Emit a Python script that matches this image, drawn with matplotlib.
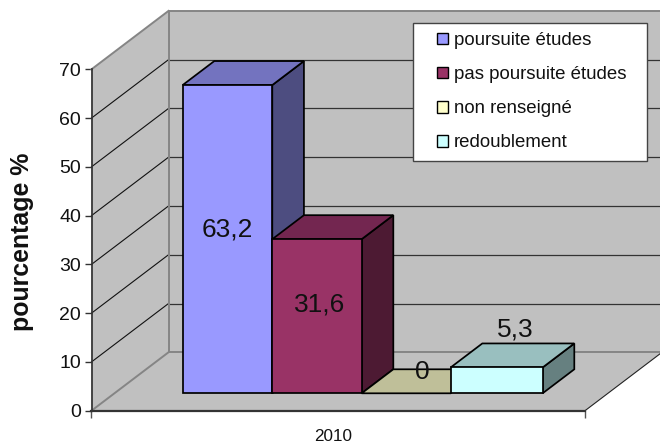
import matplotlib
matplotlib.use("Agg")
import matplotlib.pyplot as plt
from matplotlib.patches import Polygon, Rectangle

plt.rcParams['font.family'] = ['Liberation Sans', 'DejaVu Sans']

# data
categories = ["2010"]
series_names = ["poursuite études", "pas poursuite études", "non renseigné", "redoublement"]
series_values = [63.2, 31.6, 0, 5.3]
y_ticks = [0, 10, 20, 30, 40, 50, 60, 70]
y_title = "pourcentage %"

# style
front_colors = ["#9999FF", "#993366", "#FFFFCC", "#CCFFFF"]
top_colors = ["#7373BF", "#732650", "#BFBF99", "#99BFBF"]
side_colors = ["#4D4D80", "#4D1A33", "#808066", "#668080"]
label_shift_px = [(0, 9.7), (2, 11.7), (15, 21.2), (18, 50.7)]
bar_edges = [0, 0.996, 1.989, 2.978, 4]

W, H = 660, 443
PXX, PXY = 90.0, 4.877
AX_L, AX_B, AX_R, AX_T = 91.5, 410.7, 585.0, 69.3
DEPTH_X, DEPTH_Y = 77.0 / PXX, 58.4 / PXY
D_FRONT, D_BACK = 0.298, 0.709
X0 = -(182.7 - 23 - AX_L) / PXX
X1 = X0 + (AX_R - AX_L) / PXX

fig = plt.figure(figsize=(W / 100, H / 100), dpi=100, facecolor="white")
ax = fig.add_axes([AX_L / W, (H - AX_B) / H, (AX_R - AX_L) / W, (AX_B - AX_T) / H])
ax.set_xlim(X0, X1)
ax.set_ylim(y_ticks[0], y_ticks[-1])
ax.patch.set_visible(False)


def ob(x, v, d):
    return (x + d * DEPTH_X, v + d * DEPTH_Y)


WALL = "#C0C0C0"
vmin, vmax = y_ticks[0], y_ticks[-1]
for pts in (
    [ob(X0, vmin, 0), ob(X0, vmax, 0), ob(X0, vmax, 1), ob(X0, vmin, 1)],
    [ob(X0, vmin, 1), ob(X0, vmax, 1), ob(X1, vmax, 1), ob(X1, vmin, 1)],
    [ob(X0, vmin, 0), ob(X1, vmin, 0), ob(X1, vmin, 1), ob(X0, vmin, 1)],
):
    ax.add_patch(Polygon(pts, closed=True, fc=WALL, ec="none", zorder=1, clip_on=False))

# gridlines
for v in y_ticks[1:-1]:
    a, b, c = ob(X0, v, 0), ob(X0, v, 1), ob(X1, v, 1)
    ax.plot([a[0], b[0]], [a[1], b[1]], color="#111111", lw=0.8, zorder=2, clip_on=False)
    ax.plot([b[0], c[0]], [b[1], c[1]], color="#333333", lw=0.9, zorder=2, clip_on=False)

# wall borders
EDGE = "#858585"
for p, q in (
    (ob(X0, vmax, 0), ob(X0, vmax, 1)),
    (ob(X0, vmax, 1), ob(X1, vmax, 1)),
    (ob(X0, vmin, 1), ob(X0, vmax, 1)),
    (ob(X0, vmin, 0), ob(X0, vmin, 1)),
    (ob(X0, vmin, 1), ob(X1, vmin, 1)),
):
    ax.plot([p[0], q[0]], [p[1], q[1]], color=EDGE, lw=1.4, zorder=3, clip_on=False)
p, q = ob(X1, vmin, 0), ob(X1, vmin, 1)
ax.plot([p[0], q[0]], [p[1], q[1]], color="#222222", lw=0.8, zorder=3, clip_on=False)

# bars
for i, v in enumerate(series_values):
    z = 4 + i
    l, r = bar_edges[i], bar_edges[i + 1]
    top = [ob(l, v, D_FRONT), ob(r, v, D_FRONT), ob(r, v, D_BACK), ob(l, v, D_BACK)]
    side = [ob(r, 0, D_FRONT), ob(r, v, D_FRONT), ob(r, v, D_BACK), ob(r, 0, D_BACK)]
    front = [ob(l, 0, D_FRONT), ob(r, 0, D_FRONT), ob(r, v, D_FRONT), ob(l, v, D_FRONT)]
    for pts, col in ((side, side_colors[i]), (top, top_colors[i]), (front, front_colors[i])):
        if v == 0 and pts is not top:
            continue
        ax.add_patch(Polygon(pts, closed=True, fc=col, ec="black", lw=1.25, joinstyle="miter",
                             zorder=z, clip_on=False))

# data labels
for i, v in enumerate(series_values):
    xc, yc = ob(i + 0.5, v / 2, D_FRONT)
    ax.annotate(f"{v:g}".replace(".", ","), (xc, yc),
                xytext=(label_shift_px[i][0] * 0.72, label_shift_px[i][1] * 0.72),
                textcoords="offset points", ha="center", va="center", fontsize=19,
                color="#111111", zorder=20)

# axes
for s in ("top", "right"):
    ax.spines[s].set_visible(False)
ax.spines["left"].set_color("#333333")
ax.spines["left"].set_linewidth(1.25)
ax.spines["bottom"].set_color("#333333")
ax.spines["bottom"].set_linewidth(1.6)
ax.spines["left"].set_zorder(10)
ax.spines["bottom"].set_zorder(10)
ax.set_yticks(y_ticks)
ax.tick_params(axis="y", length=5.4, width=1.0, color="#333333", labelsize=14, pad=2, labelcolor="#111111")
ax.set_xticks([(X0 + X1) / 2 - 0.06], categories)
ax.tick_params(axis="x", which="major", length=0, labelsize=12.3, pad=13, labelcolor="#111111")
ax.set_xticks([X0, X1], minor=True)
ax.tick_params(axis="x", which="minor", length=5, width=1.0, color="#555555")
ax.set_ylabel(y_title, fontsize=17.9, fontweight="bold", color="#111111")
ax.yaxis.set_label_coords((34 - AX_L) / (AX_R - AX_L), (AX_B - 242) / (AX_B - AX_T))

# legend
ax.add_patch(Rectangle((413 / W, 1 - 161 / H), 234 / W, 138 / H, transform=fig.transFigure,
                       fc="white", ec="#444444", lw=1.0, zorder=25, clip_on=False))
handles = [Rectangle((0, 0), 1, 1, fc=c, ec="black", lw=1.0) for c in front_colors]
leg = ax.legend(handles, series_names, loc="upper left", bbox_to_anchor=(436.7 / W, 1 - 32 / H),
                bbox_transform=fig.transFigure, fontsize=13.4, frameon=False,
                borderaxespad=0, borderpad=0, handlelength=0.6, handleheight=0.6,
                handletextpad=0.33, labelspacing=0.92, labelcolor="#111111")
leg.set_zorder(30)

fig.savefig("out.png", dpi=100)
